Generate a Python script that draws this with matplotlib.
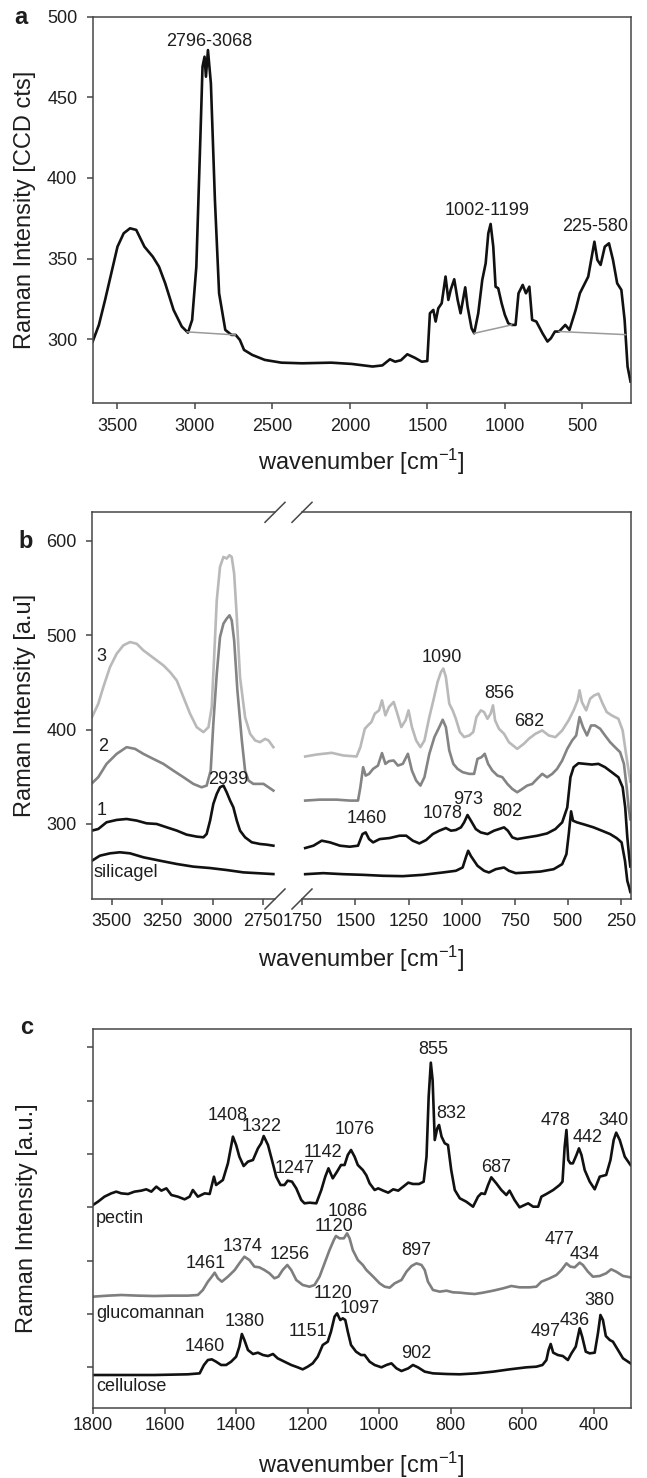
import numpy as np
import matplotlib.pyplot as plt

plt.rcParams['font.family'] = ['Liberation Sans', 'DejaVu Sans']
plt.rcParams['mathtext.fontset'] = 'custom'
plt.rcParams['mathtext.rm'] = 'Liberation Sans'
plt.rcParams['mathtext.it'] = 'Liberation Sans:italic'
plt.rcParams['mathtext.bf'] = 'Liberation Sans:bold'

# ---------------- panel a : sample spectrum ----------------
a_wn = [3660, 3620, 3580, 3540, 3500, 3460, 3419, 3379, 3326, 3272,
        3232, 3192, 3138, 3085, 3045, 3018, 2991, 2964, 2951, 2938,
        2929, 2916, 2897, 2871, 2844, 2804, 2764, 2737, 2710, 2683,
        2630, 2549, 2442, 2308, 2121, 1987, 1853, 1790, 1741, 1708,
        1670, 1629, 1580, 1536, 1500, 1483, 1461, 1446, 1429, 1407,
        1382, 1364, 1349, 1326, 1304, 1285, 1255, 1240, 1214, 1197,
        1171, 1145, 1123, 1106, 1091, 1074, 1059, 1042, 1020, 999,
        977, 956, 930, 911, 884, 863, 841, 823, 796, 756,
        724, 702, 676, 649, 609, 582, 542, 515, 461, 421,
        402, 381, 354, 327, 301, 274, 247, 226, 207, 188]
a_int = [298.6, 308.9, 324.4, 340.9, 357.4, 365.7, 368.8, 367.8, 357.4, 351.2,
         345.0, 334.7, 318.2, 307.9, 304.1, 312.0, 345.0, 427.7, 469.0, 475.2,
         462.8, 479.3, 458.7, 386.4, 328.5, 305.8, 302.7, 302.7, 299.6, 293.4,
         290.3, 287.2, 285.5, 285.1, 285.5, 284.7, 283.1, 283.8, 287.6, 286.1,
         287.0, 290.7, 288.5, 286.1, 286.5, 316.1, 318.2, 311.0, 319.2, 322.3,
         338.9, 324.4, 330.6, 337.2, 324.4, 316.1, 332.2, 320.3, 306.8, 303.7,
         316.1, 336.8, 347.1, 365.7, 371.5, 357.5, 332.6, 331.6, 322.3, 315.1,
         309.9, 308.9, 308.9, 328.5, 333.7, 328.5, 332.6, 312.0, 311.0, 303.7,
         298.6, 300.6, 304.8, 304.8, 308.9, 305.8, 318.2, 328.5, 338.8, 360.5,
         349.2, 346.1, 357.4, 359.5, 349.2, 334.7, 330.6, 312.0, 283.1, 273.8]
# integration baselines (start, end wavenumber)
a_baselines = [(3050, 2740), (1197, 956), (649, 220)]
a_labels = [('2796-3068', 2910, 484.5), ('1002-1199', 1116, 379.7), ('225-580', 418, 369.8)]

# ---------------- panel b : series 3, 2, 1, silicagel ----------------
b3_left_wn = [3597, 3566, 3541, 3508, 3475, 3442, 3409, 3376, 3343, 3310,
              3277, 3244, 3211, 3178, 3145, 3112, 3079, 3046, 3021, 3005,
              2993, 2980, 2964, 2947, 2931, 2917, 2906, 2894, 2881, 2865,
              2840, 2815, 2790, 2766, 2741, 2724, 2700]
b3_left_int = [413.2, 427.4, 445.1, 466.3, 480.4, 489.3, 492.8, 491.0, 484.0, 478.7,
               473.4, 468.1, 461.0, 452.1, 434.5, 416.8, 402.6, 397.3, 402.6, 423.8,
               476.9, 537.0, 572.4, 583.0, 581.3, 584.8, 583.0, 565.3, 519.4, 455.7,
               413.2, 395.5, 388.5, 386.7, 390.2, 388.5, 381.4]
b2_left_wn = [3597, 3566, 3525, 3475, 3426, 3384, 3343, 3294, 3244, 3195,
              3145, 3096, 3055, 3030, 3010, 2997, 2980, 2964, 2947, 2931,
              2917, 2906, 2894, 2878, 2856, 2840, 2823, 2799, 2774, 2749,
              2724, 2700]
b2_left_int = [343.2, 349.6, 363.7, 374.3, 381.4, 379.6, 374.3, 369.0, 363.7, 356.6,
               349.6, 342.5, 338.9, 340.7, 356.6, 406.2, 459.2, 498.1, 512.3, 517.6,
               521.1, 515.8, 494.6, 441.5, 388.5, 356.6, 346.0, 342.5, 342.5, 342.5,
               338.9, 335.4]
b1_left_wn = [3597, 3566, 3525, 3475, 3426, 3376, 3327, 3277, 3228, 3178,
              3129, 3079, 3046, 3030, 3013, 2997, 2980, 2964, 2947, 2931,
              2914, 2898, 2881, 2865, 2840, 2807, 2766, 2733, 2700]
b1_left_int = [293.0, 294.7, 301.8, 304.3, 305.3, 303.6, 300.7, 300.0, 296.5, 293.0,
               288.7, 286.6, 285.9, 289.4, 303.6, 321.3, 331.9, 338.9, 340.7, 333.6,
               324.8, 317.7, 303.6, 293.0, 285.9, 280.6, 278.8, 278.1, 277.0]
bs_left_wn = [3597, 3558, 3508, 3459, 3409, 3343, 3261, 3178, 3096, 3013, 2931, 2848, 2766, 2700]
bs_left_int = [261.1, 266.4, 268.9, 270.0, 268.9, 264.7, 261.1, 257.6, 254.8, 253.3, 251.2, 248.7, 247.7, 246.9]

b3_right_wn = [1737, 1683, 1612, 1558, 1495, 1477, 1456, 1441, 1425, 1409,
               1389, 1375, 1359, 1342, 1320, 1305, 1284, 1264, 1250, 1234,
               1214, 1194, 1175, 1152, 1133, 1113, 1097, 1086, 1074, 1058,
               1042, 1027, 1008, 988, 964, 945, 930, 909, 894, 878,
               863, 852, 842, 824, 800, 777, 738, 707, 683, 652,
               620, 589, 558, 526, 496, 472, 453, 444, 433, 413,
               394, 375, 355, 335, 316, 292, 261, 241, 225, 213, 205]
b3_right_int = [371.5, 373.6, 375.4, 372.6, 371.5, 381.4, 400.9, 404.5, 408.0, 416.9,
                420.4, 431.0, 415.1, 424.0, 429.3, 418.6, 402.7, 409.8, 420.4, 402.7,
                388.5, 381.4, 388.5, 413.3, 431.0, 450.5, 461.1, 464.7, 455.8, 427.5,
                420.4, 411.5, 397.4, 392.1, 393.8, 397.4, 413.3, 420.4, 418.6, 411.5,
                416.9, 425.7, 409.8, 400.9, 395.6, 386.7, 379.6, 384.9, 390.3, 395.6,
                399.1, 393.8, 392.0, 399.1, 409.7, 420.4, 431.0, 441.6, 429.2, 420.4,
                432.8, 436.3, 438.1, 427.4, 418.6, 415.0, 411.5, 399.1, 374.3, 356.6, 345.0]
b2_right_wn = [1737, 1667, 1589, 1527, 1488, 1477, 1464, 1452, 1436, 1417,
               1394, 1375, 1359, 1342, 1320, 1300, 1277, 1253, 1234, 1214,
               1194, 1175, 1152, 1128, 1105, 1089, 1074, 1058, 1039, 1019,
               995, 964, 941, 925, 906, 891, 875, 855, 831, 808,
               784, 761, 738, 714, 691, 667, 644, 620, 597, 573,
               550, 526, 502, 479, 460, 444, 428, 409, 390, 371,
               347, 324, 300, 277, 253, 235, 222, 213, 205]
b2_right_int = [324.8, 325.8, 325.8, 324.8, 324.8, 338.9, 360.2, 351.3, 353.1, 358.4,
                361.9, 375.1, 363.7, 366.6, 367.3, 361.9, 363.7, 374.4, 356.6, 346.0,
                340.7, 349.6, 374.4, 392.1, 402.7, 410.5, 402.7, 377.9, 363.7, 358.4,
                354.9, 353.1, 353.1, 369.0, 370.8, 374.4, 363.7, 356.6, 351.3, 349.6,
                342.4, 337.1, 333.6, 337.1, 340.7, 342.4, 347.8, 353.1, 349.5, 353.1,
                358.4, 367.2, 379.6, 388.5, 393.8, 413.3, 402.7, 393.8, 404.4, 404.4,
                400.9, 393.8, 386.7, 381.4, 376.1, 363.7, 338.9, 317.6, 305.0]
b1_right_wn = [1737, 1698, 1659, 1620, 1573, 1527, 1488, 1467, 1452, 1436,
               1417, 1386, 1339, 1292, 1261, 1230, 1199, 1167, 1136, 1105,
               1074, 1050, 1027, 1003, 988, 972, 956, 933, 910, 878,
               847, 824, 800, 782, 761, 738, 691, 644, 597, 558,
               526, 502, 487, 472, 449, 418, 386, 355, 324, 292,
               261, 241, 229, 219, 210, 205]
b1_right_int = [274.5, 277.0, 282.3, 280.5, 277.0, 275.9, 277.0, 289.3, 291.1, 284.0,
                280.5, 284.0, 285.1, 287.6, 287.6, 282.3, 279.4, 283.0, 289.3, 292.9,
                295.7, 292.9, 293.6, 296.4, 301.7, 309.5, 303.5, 294.6, 291.1, 289.3,
                292.9, 294.6, 296.4, 292.9, 285.8, 284.0, 285.8, 287.5, 290.0, 294.6,
                301.7, 317.6, 349.5, 360.2, 364.4, 363.7, 363.0, 363.7, 360.2, 354.8,
                349.5, 338.9, 317.6, 285.8, 264.5, 255.0]
bs_right_wn = [1737, 1652, 1558, 1464, 1370, 1277, 1183, 1089, 1027, 995,
               980, 969, 956, 925, 894, 871, 839, 800, 777, 745,
               691, 628, 566, 526, 506, 495, 484, 475, 456, 418,
               378, 339, 300, 269, 246, 230, 219, 210, 205]
bs_right_int = [246.8, 247.9, 246.8, 246.1, 245.1, 244.7, 246.1, 248.6, 250.4, 253.9,
                264.5, 271.6, 266.0, 255.7, 250.4, 248.6, 252.1, 253.9, 250.4, 247.9,
                248.6, 249.6, 252.1, 257.4, 268.0, 289.3, 313.4, 303.5, 301.7, 299.2,
                296.4, 292.9, 289.3, 285.0, 280.5, 261.0, 239.7, 232.6, 228.0]
b_left_labels = [('3', 3549, 477.8), ('2', 3542, 382.3), ('1', 3549, 314.1), ('2939', 2923, 346.8)]
b_right_labels = [('1090', 1094, 476.4), ('856', 820, 438.8), ('682', 680, 408.5),
                  ('1460', 1445, 305.3), ('1078', 1090, 310.6), ('973', 968, 325.8),
                  ('802', 783, 313.4)]

# ---------------- panel c : reference polysaccharides ----------------
pectin_wn = [1800, 1786, 1768, 1749, 1735, 1721, 1702, 1684, 1665, 1651,
             1637, 1623, 1609, 1595, 1581, 1563, 1544, 1530, 1521, 1507,
             1488, 1474, 1462, 1456, 1437, 1423, 1409, 1400, 1391, 1379,
             1367, 1353, 1339, 1330, 1323, 1311, 1300, 1288, 1276, 1265,
             1256, 1244, 1232, 1218, 1209, 1195, 1176, 1162, 1151, 1142,
             1130, 1118, 1107, 1097, 1088, 1079, 1069, 1060, 1046, 1036,
             1027, 1013, 1003, 989, 975, 961, 947, 933, 919, 906,
             889, 876, 868, 862, 856, 851, 845, 838, 833, 826,
             817, 808, 799, 789, 775, 757, 738, 724, 715, 705,
             696, 687, 673, 659, 645, 636, 622, 608, 594, 584,
             570, 556, 547, 533, 514, 496, 488, 482, 477, 472,
             466, 459, 449, 442, 435, 426, 412, 398, 384, 366,
             354, 345, 338, 328, 314, 298]
pectin_int = [304.5, 310.7, 320.1, 326.3, 329.5, 326.3, 325.1, 329.5, 331.4, 333.9,
              329.5, 338.9, 331.4, 335.7, 323.2, 320.1, 315.1, 320.1, 332.6, 320.1,
              326.3, 325.1, 357.6, 342.0, 351.4, 382.6, 432.7, 417.0, 395.1, 377.6,
              385.8, 388.9, 410.8, 420.2, 433.9, 417.0, 388.9, 357.6, 342.0, 342.0,
              350.1, 348.3, 335.7, 313.8, 307.6, 308.8, 307.6, 332.6, 357.6, 373.3,
              354.5, 367.0, 379.5, 379.5, 398.3, 407.7, 395.1, 379.5, 370.1, 360.0,
              345.1, 332.6, 335.7, 331.4, 327.6, 333.9, 331.4, 338.9, 346.4, 343.9,
              343.9, 348.2, 395.1, 507.7, 571.5, 539.0, 426.4, 448.3, 454.6, 432.7,
              420.2, 417.0, 370.1, 332.6, 317.0, 310.7, 301.3, 320.1, 326.3, 325.1,
              342.0, 356.4, 345.1, 332.6, 323.2, 331.4, 313.8, 300.1, 304.5, 307.6,
              301.3, 301.3, 320.1, 325.1, 332.6, 342.0, 348.3, 413.9, 445.2, 388.9,
              382.6, 382.6, 398.3, 410.8, 398.3, 370.1, 348.3, 333.9, 357.6, 360.8,
              388.9, 426.4, 440.2, 426.4, 395.1, 379.5]
gluco_wn = [1800, 1758, 1721, 1674, 1628, 1581, 1535, 1507, 1493, 1479,
            1468, 1460, 1451, 1440, 1423, 1404, 1391, 1377, 1363, 1349,
            1335, 1321, 1307, 1293, 1282, 1270, 1257, 1246, 1232, 1214,
            1195, 1181, 1167, 1153, 1139, 1127, 1121, 1111, 1099, 1090,
            1083, 1074, 1060, 1046, 1036, 1017, 999, 985, 971, 957,
            938, 924, 910, 896, 882, 873, 864, 850, 831, 812,
            794, 775, 757, 733, 710, 682, 654, 631, 608, 580,
            561, 547, 524, 505, 491, 477, 466, 454, 440, 431,
            417, 403, 384, 366, 352, 338, 319, 298]
gluco_int = [132.5, 134.4, 135.6, 134.4, 133.7, 134.4, 134.4, 135.6, 145.0, 160.6,
             170.0, 177.5, 166.9, 160.6, 170.0, 182.5, 195.0, 207.5, 201.3, 188.8,
             187.5, 182.5, 176.3, 166.9, 170.0, 182.5, 191.9, 182.5, 163.8, 154.4,
             151.2, 154.4, 170.0, 195.0, 220.0, 238.8, 246.3, 241.9, 241.9, 251.3,
             241.9, 220.0, 201.3, 191.9, 182.5, 170.0, 157.5, 151.2, 149.4, 157.5,
             163.8, 179.4, 190.0, 195.0, 191.9, 182.5, 160.6, 145.0, 141.9, 143.7,
             140.6, 140.0, 138.7, 137.5, 140.0, 143.7, 148.1, 152.5, 150.0, 150.0,
             151.2, 160.6, 166.9, 173.1, 182.5, 195.0, 188.8, 187.5, 196.3, 191.9,
             179.4, 170.0, 171.3, 176.3, 183.8, 179.4, 171.3, 168.8]
cell_wn = [1800, 1721, 1628, 1535, 1502, 1490, 1479, 1468, 1456, 1442,
           1428, 1414, 1400, 1391, 1384, 1377, 1367, 1353, 1339, 1325,
           1311, 1297, 1284, 1265, 1246, 1228, 1214, 1200, 1186, 1172,
           1158, 1144, 1135, 1125, 1118, 1109, 1102, 1095, 1088, 1079,
           1065, 1051, 1041, 1027, 1013, 994, 980, 966, 952, 938,
           919, 906, 892, 873, 850, 812, 775, 729, 682, 636,
           589, 561, 544, 533, 527, 521, 514, 501, 487, 473,
           463, 451, 440, 433, 423, 412, 398, 389, 382, 375,
           367, 356, 347, 333, 319, 298]
cell_int = [-14.5, -14.5, -14.5, -13.2, -11.4, 4.3, 13.6, 14.9, 10.5, 4.3,
            4.3, 10.5, 19.9, 38.7, 62.4, 51.2, 32.4, 24.9, 27.4, 23.0,
            21.1, 24.9, 16.8, 10.5, 4.3, -0.1, -3.9, 1.1, 7.4, 19.9,
            41.8, 48.0, 66.8, 95.0, 101.2, 88.7, 91.8, 88.7, 66.8, 41.8,
            29.3, 23.0, 23.0, 10.5, 4.3, -0.1, 4.3, 7.4, -2.0, -7.0,
            -2.0, 4.3, -0.1, -8.2, -11.4, -12.6, -13.2, -11.4, -8.2, -3.9,
            -0.1, 1.1, 4.3, 13.6, 32.4, 43.7, 27.4, 23.0, 21.1, 13.6,
            26.1, 38.7, 73.1, 57.4, 29.3, 26.1, 27.4, 63.7, 98.1, 88.7,
            58.7, 51.2, 48.0, 32.4, 16.8, 7.4]
c_labels = [('1408', 1425, 471.5), ('1322', 1330, 451.4), ('1247', 1237, 373.3),
            ('1142', 1158, 402.6), ('1076', 1069, 445.2), ('855', 848, 596.5),
            ('832', 798, 475.2), ('687', 673, 375.1), ('478', 507, 463.9),
            ('442', 417, 431.4), ('340', 347, 462.7),
            ('1086', 1088, 292.0), ('1120', 1127, 264.0), ('1374', 1381, 227.5),
            ('1256', 1251, 212.5), ('1461', 1484, 195.0), ('897', 898, 218.8),
            ('477', 496, 238.8), ('434', 426, 212.5),
            ('1120', 1130, 138.7), ('1097', 1055, 110.6), ('1380', 1377, 85.6),
            ('1151', 1200, 66.8), ('1460', 1488, 38.7), ('902', 898, 26.1),
            ('497', 535, 66.8), ('436', 454, 88.7), ('380', 384, 126.2)]
c_names = [('pectin', 278.2), ('glucomannan', 101.2), ('cellulose', -36.4)]

# ---------------- layout helpers ----------------
W, H = 647, 1478
TXT = '#1e1e1e'
SPINE = '#474747'
LW = 1.9
FS_TICK = 13
FS_NOTE = 13
FS_LABEL = 17


def px_axes(left, top, right, bottom):
    return [left / W, 1 - bottom / H, (right - left) / W, (bottom - top) / H]


def style(ax, xpad=6.0, ypad=6.8):
    for s in ax.spines.values():
        s.set_color(SPINE)
        s.set_linewidth(1.1)
    ax.tick_params(direction='out', length=4.3, width=1.1, color=SPINE,
                   labelsize=FS_TICK, labelcolor=TXT)
    ax.tick_params(axis='x', pad=xpad)
    ax.tick_params(axis='y', pad=ypad)


def baseline_level(wn, inten, x):
    return np.interp(x, wn[::-1], inten[::-1])


fig = plt.figure(figsize=(W / 100, H / 100), dpi=100)

# ---------------- panel a ----------------
axa = fig.add_axes(px_axes(92.7, 16.7, 630.5, 403.3))
axa.plot(a_wn, a_int, color='#111111', lw=LW)
for x0, x1 in a_baselines:
    axa.plot([x0, x1], [baseline_level(a_wn, a_int, x0), baseline_level(a_wn, a_int, x1)],
             color='#9a9a9a', lw=1.1)
for txt, x, y in a_labels:
    axa.text(x, y, txt, ha='center', va='center', fontsize=FS_NOTE, color=TXT)
axa.set_xlim(3660, 188)
axa.set_ylim(260.3, 500)
axa.set_xticks([3500, 3000, 2500, 2000, 1500, 1000, 500])
axa.set_yticks([300, 350, 400, 450, 500])
style(axa)
axa.set_ylabel('Raman Intensity [CCD cts]', fontsize=FS_LABEL, color=TXT)
axa.yaxis.set_label_coords((25 - 92.7) / 537.8, 0.5)
axa.yaxis.label.set_va('center')
fig.text(361.5 / W, 1 - 462 / H, 'wavenumber [cm$^{-1}$]', ha='center', va='center',
         fontsize=FS_LABEL, color=TXT)
fig.text(21 / W, 1 - 17 / H, 'a', ha='center', va='center', fontsize=FS_LABEL,
         fontweight='bold', color=TXT)

# ---------------- panel b (broken x axis) ----------------
axb1 = fig.add_axes(px_axes(92, 512.3, 275, 899))
axb2 = fig.add_axes(px_axes(302, 512.3, 630.5, 899))
series_b = [
    (b3_left_wn, b3_left_int, b3_right_wn, b3_right_int, '#b9b9b9'),
    (b2_left_wn, b2_left_int, b2_right_wn, b2_right_int, '#848484'),
    (b1_left_wn, b1_left_int, b1_right_wn, b1_right_int, '#111111'),
    (bs_left_wn, bs_left_int, bs_right_wn, bs_right_int, '#111111'),
]
for lw_, li_, rw_, ri_, col in series_b:
    axb1.plot(lw_, li_, color=col, lw=LW)
    axb2.plot(rw_, ri_, color=col, lw=LW)
for ax in (axb1, axb2):
    ax.set_ylim(220.5, 630.3)
    style(ax)
axb1.set_xlim(3597, 2692)
axb2.set_xlim(1752, 204)
axb1.set_xticks([3500, 3250, 3000, 2750])
axb2.set_xticks([1750, 1500, 1250, 1000, 750, 500, 250])
axb1.set_yticks([300, 400, 500, 600])
axb1.spines['right'].set_visible(False)
axb2.spines['left'].set_visible(False)
axb2.tick_params(axis='y', left=False, labelleft=False)

for txt, x, y in b_left_labels:
    axb1.text(x, y, txt, ha='center', va='center', fontsize=FS_NOTE, color=TXT)
axb1.text(3591, 248.6, 'silicagel', ha='left', va='center', fontsize=FS_NOTE, color=TXT)
for txt, x, y in b_right_labels:
    axb2.text(x, y, txt, ha='center', va='center', fontsize=FS_NOTE, color=TXT)


def draw_break(ax, xfrac, dx_px=10, dy_px=10):
    pos = ax.get_position()
    dx = dx_px / (pos.width * W)
    dy = dy_px / (pos.height * H)
    for yy in (0, 1):
        ax.plot([xfrac - dx, xfrac + dx], [yy - dy, yy + dy], transform=ax.transAxes,
                color=SPINE, lw=1.1, clip_on=False)


draw_break(axb1, 1.0)
draw_break(axb2, 0.0)

axb1.set_ylabel('Raman Intensity [a.u]', fontsize=FS_LABEL, color=TXT)
axb1.yaxis.set_label_coords((25 - 92) / 183, 0.5)
axb1.yaxis.label.set_va('center')
fig.text(361.5 / W, 1 - 959 / H, 'wavenumber [cm$^{-1}$]', ha='center', va='center',
         fontsize=FS_LABEL, color=TXT)
fig.text(26 / W, 1 - 541 / H, 'b', ha='center', va='center', fontsize=FS_LABEL,
         fontweight='bold', color=TXT)

# ---------------- panel c ----------------
axc = fig.add_axes(px_axes(93, 1029.3, 630.5, 1408))
axc.plot(pectin_wn, pectin_int, color='#111111', lw=LW)
axc.plot(gluco_wn, gluco_int, color='#7e7e7e', lw=LW)
axc.plot(cell_wn, cell_int, color='#111111', lw=LW)
for txt, x, y in c_labels:
    axc.text(x, y, txt, ha='center', va='center', fontsize=FS_NOTE, color=TXT)
for txt, y in c_names:
    axc.text(1792, y, txt, ha='left', va='center', fontsize=FS_NOTE, color=TXT)
axc.set_xlim(1800, 298)
axc.set_ylim(-76.4, 634.1)
axc.set_xticks([1800, 1600, 1400, 1200, 1000, 800, 600, 400])
axc.set_yticks([0, 100, 200, 300, 400, 500, 600])
style(axc, xpad=2.5)
axc.tick_params(axis='y', labelleft=False)
axc.set_ylabel('Raman Intensity [a.u.]', fontsize=FS_LABEL, color=TXT)
axc.yaxis.set_label_coords((27 - 93) / 537.5, 0.5)
axc.yaxis.label.set_va('center')
fig.text(361.5 / W, 1 - 1465 / H, 'wavenumber [cm$^{-1}$]', ha='center', va='center',
         fontsize=FS_LABEL, color=TXT)
fig.text(27 / W, 1 - 1028 / H, 'c', ha='center', va='center', fontsize=FS_LABEL,
         fontweight='bold', color=TXT)

fig.savefig('out.png', dpi=100)
